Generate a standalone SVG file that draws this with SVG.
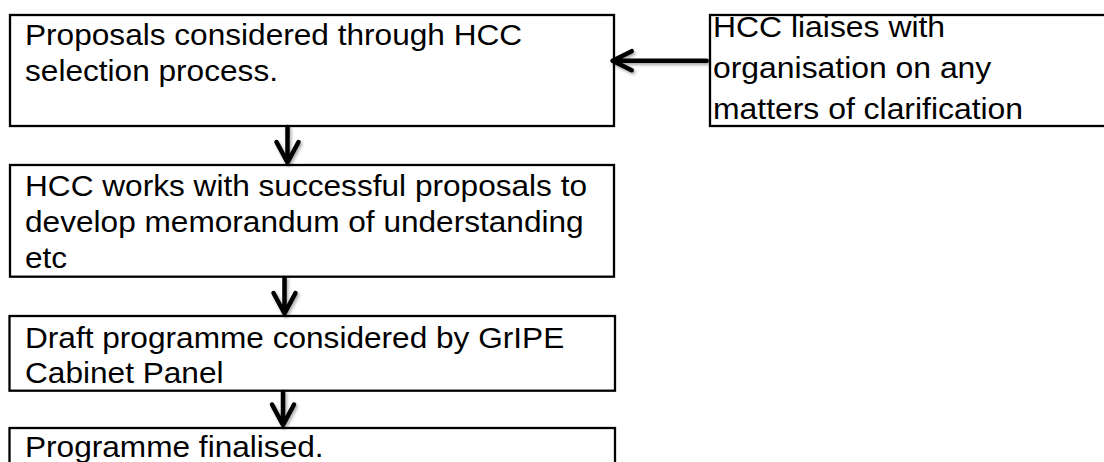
<svg xmlns="http://www.w3.org/2000/svg" width="1104" height="462" viewBox="0 0 1104 462">
  <style>
    .box { fill: #ffffff; stroke: #000000; stroke-width: 2.3; }
    .label { font-family: "Liberation Sans", Arial, sans-serif; font-size: 29px; fill: #000000; }
    .arrow { fill: none; stroke: #000000; stroke-width: 4.5; stroke-linecap: round; stroke-linejoin: round; }
  </style>
  <defs>
    <filter id="soft-shadow" x="-30%" y="-30%" width="160%" height="160%">
      <feDropShadow dx="1.5" dy="2" stdDeviation="1.6" flood-color="#000000" flood-opacity="0.35"/>
    </filter>
  </defs>

  <rect width="1104" height="462" fill="#ffffff"/>

  <g id="node-selection">
    <rect class="box" x="10" y="15" width="604" height="111"/>
    <text class="label" transform="matrix(1.09 0 0 1 25 44.7)">Proposals considered through HCC</text>
    <text class="label" transform="matrix(1.09 0 0 1 25 81)">selection process.</text>
  </g>

  <g id="node-clarification">
    <rect class="box" x="710" y="15" width="410" height="111"/>
    <text class="label" transform="matrix(1.1 0 0 1 713 37)">HCC liaises with</text>
    <text class="label" transform="matrix(1.1 0 0 1 713 78)">organisation on any</text>
    <text class="label" transform="matrix(1.1 0 0 1 713 119)">matters of clarification</text>
  </g>

  <g id="node-memorandum">
    <rect class="box" x="10" y="165" width="604" height="111.7"/>
    <text class="label" transform="matrix(1.09 0 0 1 25 195.7)">HCC works with successful proposals to</text>
    <text class="label" transform="matrix(1.09 0 0 1 25 231.7)">develop memorandum of understanding</text>
    <text class="label" transform="matrix(1.09 0 0 1 25 268)">etc</text>
  </g>

  <g id="node-draft">
    <rect class="box" x="9.5" y="316" width="605.5" height="74.7"/>
    <text class="label" transform="matrix(1.09 0 0 1 25 348.3)">Draft programme considered by GrIPE</text>
    <text class="label" transform="matrix(1.09 0 0 1 25 383.3)">Cabinet Panel</text>
  </g>

  <g id="node-finalised">
    <rect class="box" x="9.5" y="428" width="605.5" height="60"/>
    <text class="label" transform="matrix(1.09 0 0 1 25 456.7)">Programme finalised.</text>
  </g>

  <g id="connectors" filter="url(#soft-shadow)">
    <!-- clarification -> selection -->
    <path class="arrow" d="M706.7 60.7 H613.5 M631.7 51.2 L612.5 60.7 L631.7 70.2"/>
    <!-- selection -> memorandum -->
    <path class="arrow" d="M287.5 127 V161.5 M276.5 142 L287.5 162.5 L298.5 142"/>
    <!-- memorandum -> draft -->
    <path class="arrow" d="M284.5 278 V312.5 M273.5 293 L284.5 313.5 L295.5 293"/>
    <!-- draft -> finalised -->
    <path class="arrow" d="M283 392 V424 M272 404.5 L283 425 L294 404.5"/>
  </g>
</svg>
